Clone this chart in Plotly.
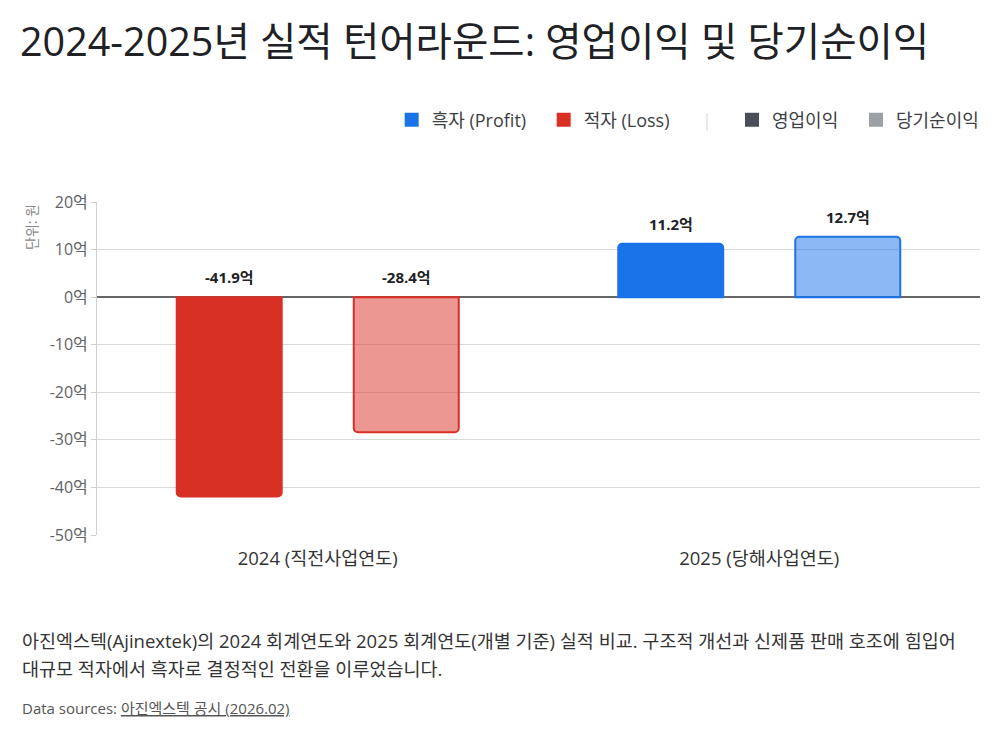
import plotly.graph_objects as go

categories = ["2024 (직전사업연도)", "2025 (당해사업연도)"]
op_profit = [-41.9, 11.2]      # 영업이익 (억원)
net_income = [-28.4, 12.7]     # 당기순이익 (억원)
tick_vals = [20, 10, 0, -10, -20, -30, -40, -50]
tick_text = [f"{v}억" for v in tick_vals]

BLUE = "#1a73e8"
RED = "#d93025"
BLUE_L = "rgba(26,115,232,0.5)"
RED_L = "rgba(217,48,37,0.5)"

FONT = "'Open Sans', 'Noto Sans CJK KR', sans-serif"

def solid(vals):
    return [BLUE if v >= 0 else RED for v in vals]

def light(vals):
    return [BLUE_L if v >= 0 else RED_L for v in vals]

fig = go.Figure()
fig.add_trace(go.Bar(
    x=categories, y=op_profit, name="영업이익", showlegend=False,
    marker=dict(color=solid(op_profit), line=dict(color=solid(op_profit), width=2), cornerradius=4),
    hovertemplate="%{x}<br>영업이익: %{y}억<extra></extra>",
))
fig.add_trace(go.Bar(
    x=categories, y=net_income, name="당기순이익", showlegend=False,
    marker=dict(color=light(net_income), line=dict(color=solid(net_income), width=2), cornerradius=4),
    hovertemplate="%{x}<br>당기순이익: %{y}억<extra></extra>",
))

# legend dummies (scatter so they don't take bar slots)
for name, col, lg in [("흑자 (Profit)", BLUE, "legend"), ("적자 (Loss)", RED, "legend"),
                      ("영업이익", "#4a4e5a", "legend2"), ("당기순이익", "#9aa0a6", "legend2")]:
    fig.add_trace(go.Scatter(x=[None], y=[None], name=name, mode="markers",
                             marker=dict(color=col, symbol="square", size=14),
                             showlegend=True, legend=lg, hoverinfo="skip"))

# value labels
annos = []
for i, cat in enumerate(categories):
    for vals, shift in [(op_profit, -88.5), (net_income, 88.5)]:
        v = vals[i]
        annos.append(dict(x=cat, y=max(v, 0), xref="x", yref="y", text=f"{v}억",
                          showarrow=False, yanchor="bottom", xshift=shift, yshift=8,
                          font=dict(family=FONT, size=15, color="#202124", weight="bold")))

annos.append(dict(xref="paper", yref="paper", x=-0.0736, y=0.925, xanchor="center", yanchor="middle",
                  text="단위: 원", textangle=-90,
                  showarrow=False, font=dict(family=FONT, size=14, color="#888")))
annos.append(dict(xref="paper", yref="paper", x=0.691, y=1.246, xanchor="center", yanchor="middle",
                  text="|", showarrow=False,
                  font=dict(family=FONT, size=18, color="#ddd")))
annos.append(dict(xref="paper", yref="paper", x=-0.087, y=(535-640)/333, xanchor="left", yanchor="middle",
                  text="아진엑스텍(Ajinextek)의 2024 회계연도와 2025 회계연도(개별 기준) 실적 비교. 구조적 개선과 신제품 판매 호조에 힘입어",
                  showarrow=False, font=dict(family=FONT, size=18.5, color="#333")))
annos.append(dict(xref="paper", yref="paper", x=-0.087, y=(535-668)/333, xanchor="left", yanchor="middle",
                  text="대규모 적자에서 흑자로 결정적인 전환을 이루었습니다.",
                  showarrow=False, font=dict(family=FONT, size=18.5, color="#333")))
annos.append(dict(xref="paper", yref="paper", x=-0.087, y=(535-708)/333, xanchor="left", yanchor="middle",
                  text="Data sources: <u>아진엑스텍 공시 (2026.02)</u>",
                  showarrow=False, font=dict(family=FONT, size=15, color="#555")))

fig.update_layout(
    width=1000, height=750,
    margin=dict(l=97, r=20, t=202, b=215),
    paper_bgcolor="white", plot_bgcolor="white",
    font=dict(family=FONT, color="#333"),
    title=dict(text="2024-2025년 실적 턴어라운드: 영업이익 및 당기순이익",
               x=0.02, xanchor="left", xref="container", y=1 - 42 / 750, yanchor="middle", yref="container",
               font=dict(family=FONT, size=39.5, color="#202124")),
    barmode="group", bargap=0.198, bargroupgap=0.407,
    legend=dict(orientation="h", x=0.678, xanchor="right", y=1.246, yanchor="middle",
                entrywidth=107,
                font=dict(family=FONT, size=18, color="#3c4043"), bgcolor="rgba(0,0,0,0)"),
    legend2=dict(orientation="h", x=1.0, xanchor="right", y=1.246, yanchor="middle",
                 entrywidth=79,
                 font=dict(family=FONT, size=18, color="#3c4043"), bgcolor="rgba(0,0,0,0)"),
    annotations=annos,
    showlegend=True,
)
fig.update_yaxes(range=[-50, 20], tickvals=tick_vals, ticktext=tick_text,
                 showgrid=True, gridcolor="#d9d9d9", gridwidth=1,
                 zeroline=True, zerolinecolor="#666", zerolinewidth=2,
                 showline=True, linecolor="#d0d0d0", linewidth=1,
                 ticks="outside", ticklen=5, tickcolor="#d0d0d0",
                 tickfont=dict(family=FONT, size=16, color="#5f6368"))
fig.update_xaxes(showgrid=False, showline=False, ticks="", ticklabelstandoff=10,
                 tickfont=dict(family=FONT, size=18.5, color="#333"))

fig.write_html("out.html")
